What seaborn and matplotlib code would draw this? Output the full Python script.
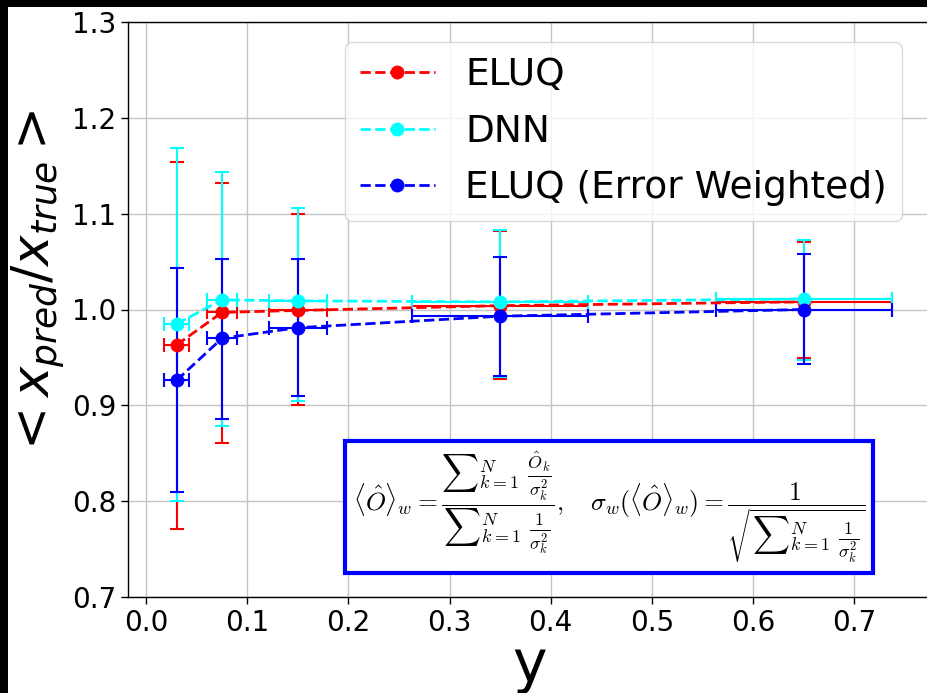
import matplotlib
matplotlib.use("Agg")
import matplotlib.pyplot as plt
import seaborn as sns
import numpy as np
from matplotlib.patches import Rectangle

# ---- data ----
y_bins = [0.03, 0.075, 0.15, 0.35, 0.65]
y_bin_err = [0.0125, 0.0145, 0.029, 0.087, 0.087]

eluq = [0.963, 0.997, 0.999, 1.004, 1.008]
eluq_lo = [0.771, 0.861, 0.900, 0.928, 0.949]
eluq_hi = [1.154, 1.132, 1.100, 1.082, 1.070]

dnn = [0.985, 1.010, 1.009, 1.008, 1.011]
dnn_lo = [0.800, 0.878, 0.905, 0.930, 0.947]
dnn_hi = [1.169, 1.143, 1.106, 1.083, 1.073]

eluq_w = [0.926, 0.970, 0.981, 0.993, 1.000]
eluq_w_lo = [0.810, 0.886, 0.910, 0.931, 0.943]
eluq_w_hi = [1.043, 1.053, 1.053, 1.055, 1.058]

labels = ["ELUQ", "DNN", "ELUQ (Error Weighted)"]
colors = ["red", "cyan", "blue"]
xticks = [0.0, 0.1, 0.2, 0.3, 0.4, 0.5, 0.6, 0.7]
yticks = [0.7, 0.8, 0.9, 1.0, 1.1, 1.2, 1.3]

sns.set_theme(style="ticks")
plt.rcParams["font.family"] = ["DejaVu Sans"]
plt.rcParams["text.color"] = "black"

W, H = 928, 693
fig = plt.figure(figsize=(W / 100, H / 100), dpi=100, facecolor="black")
fig.patches.append(Rectangle((8 / W, 0), 1, 1 - 7 / H, transform=fig.transFigure,
                             facecolor="white", edgecolor="none", zorder=-10))

left_px, right_px, top_px, bottom_px = 128, 932, 22, 597
ax = fig.add_axes([left_px / W, 1 - bottom_px / H,
                   (right_px - left_px) / W, (bottom_px - top_px) / H])
ax.set_facecolor("white")

series = [(eluq, eluq_lo, eluq_hi), (dnn, dnn_lo, dnn_hi), (eluq_w, eluq_w_lo, eluq_w_hi)]
for (vals, lo, hi), lab, col in zip(series, labels, colors):
    v = np.array(vals)
    yerr = np.vstack([v - np.array(lo), np.array(hi) - v])
    ax.errorbar(y_bins, v, xerr=y_bin_err, yerr=yerr, fmt="none", ecolor=col,
                elinewidth=1.5, capsize=5, capthick=1.5, zorder=2)
    sns.lineplot(x=y_bins, y=vals, color=col, linestyle="--", linewidth=2,
                 marker="o", markersize=10, markeredgewidth=0, label=lab, ax=ax,
                 zorder=3)

ax.set_xlim(-0.018, 0.777)
ax.set_ylim(0.7, 1.3)
ax.set_xticks(xticks)
ax.set_yticks(yticks)
ax.tick_params(labelsize=20, length=5, width=1, colors="black")
ax.grid(True, color="#c4c4c4", linewidth=1)
for s in ax.spines.values():
    s.set_color("black")
    s.set_linewidth(1)

ax.set_xlabel("y", fontsize=42, labelpad=0, color="black")
ax.set_ylabel(r"$< x_{pred}/x_{true} >$", fontsize=37, color="black")
ax.yaxis.set_label_coords((66 - left_px) / (right_px - left_px), (bottom_px - 285) / (bottom_px - top_px))

leg = ax.legend(loc="upper left", bbox_to_anchor=(345 / W, 1 - 42 / H),
                bbox_transform=fig.transFigure, borderaxespad=0, fontsize=27,
                frameon=True, framealpha=0.8, handlelength=2, labelspacing=0.55)
leg.get_frame().set_edgecolor("#d0d0d0")
for t in leg.get_texts():
    t.set_color("black")

formula = (r"$\langle\hat{O}\rangle_w = \dfrac{{\sum}_{k=1}^{N}\ \frac{\hat{O}_k}{\sigma_k^2}}"
           r"{{\sum}_{k=1}^{N}\ \frac{1}{\sigma_k^2}},\quad "
           r"\sigma_w(\langle\hat{O}\rangle_w) = \dfrac{1}{\sqrt{{\sum}_{k=1}^{N}\ \frac{1}{\sigma_k^2}}}$")
fig.text(609 / W, 1 - 507 / H, formula, fontsize=18.5, math_fontfamily="cm",
         ha="center", va="center", color="black",
         bbox=dict(boxstyle="square,pad=0.3", facecolor="white", edgecolor="blue", linewidth=3))

fig.savefig("out.png", dpi=100, facecolor=fig.get_facecolor())
